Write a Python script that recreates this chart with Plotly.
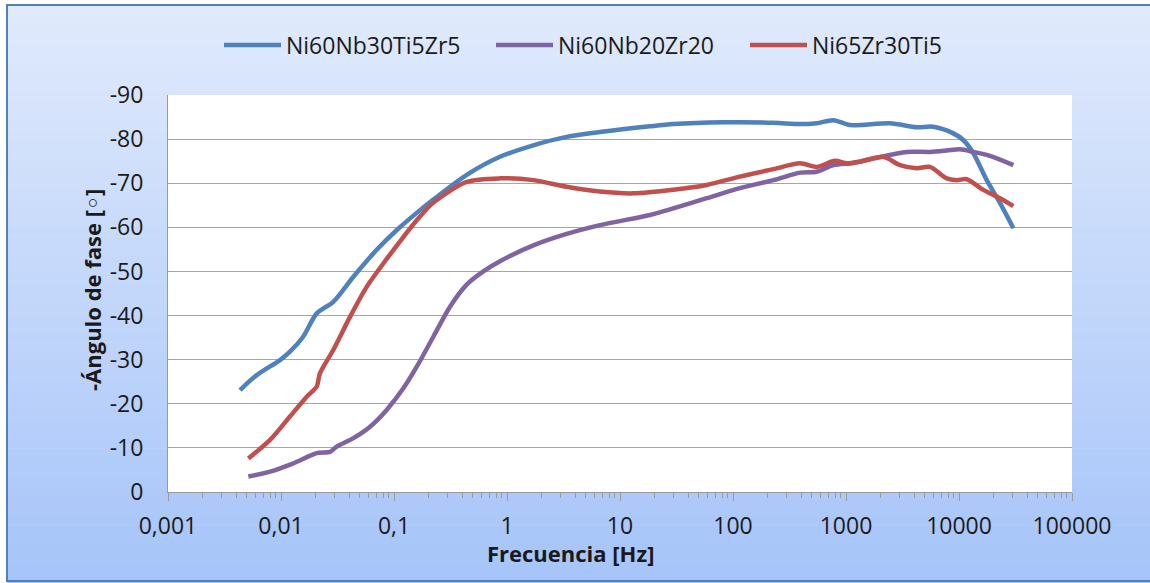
import plotly.graph_objects as go

# ---------------- data ----------------
blue_name = "Ni60Nb30Ti5Zr5"
blue_f = [0.00434, 0.0061, 0.0098, 0.012, 0.0157, 0.0207, 0.029, 0.0437, 0.0703, 0.106,
          0.17, 0.223, 0.44, 0.867, 1.71, 3.37, 6.65, 18.4, 29.6, 82, 228, 392, 550, 773,
          1084, 2450, 4220, 5930, 8910, 10900, 13400, 17600, 23100, 30300]
blue_v = [-23.1, -26.5, -29.9, -31.8, -35.2, -40.5, -43.1, -48.8, -54.9, -59.4,
          -63.9, -66.3, -71.9, -76.0, -78.6, -80.5, -81.6, -82.9, -83.4, -83.8, -83.7, -83.4, -83.6, -84.3,
          -83.2, -83.6, -82.7, -82.8, -81.3, -79.8, -76.8, -70.7, -65.5, -59.8]

purple_name = "Ni60Nb20Zr20"
purple_f = [0.00514, 0.0080, 0.01285, 0.0207, 0.0272, 0.0311, 0.0437, 0.0614, 0.0861, 0.121,
            0.159, 0.223, 0.313, 0.44, 0.617, 0.867, 1.71, 3.37, 6.65, 18.4, 29.6, 58.5, 115,
            228, 392, 550, 773, 1161, 1746, 3443, 5534, 7780, 10200, 13400, 18800, 30270]
purple_v = [-3.5, -4.6, -6.5, -8.8, -9.1, -10.3, -12.2, -14.8, -18.6, -23.5,
            -28.4, -35.2, -42.0, -47.0, -50.0, -52.3, -55.9, -58.5, -60.5, -62.8, -64.3, -66.6, -68.9,
            -70.7, -72.4, -72.6, -74.1, -74.6, -75.6, -77.1, -77.1, -77.4, -77.7, -77.1, -76.2, -74.1]

red_name = "Ni65Zr30Ti5"
red_f = [0.00514, 0.008, 0.012, 0.0169, 0.0207, 0.0221, 0.029, 0.0408, 0.0573, 0.0804,
         0.121, 0.159, 0.223, 0.44, 0.867, 1.71, 3.37, 6.65, 13.1, 29.6, 58.5, 115, 228, 392,
         550, 800, 1014, 1330, 2138, 3006, 4217, 5534, 7780, 9528, 11695, 16400, 23070, 30270]
red_v = [-7.6, -11.8, -17.1, -21.6, -23.9, -26.9, -32.2, -39.7, -46.5, -51.8,
         -57.8, -61.6, -65.6, -70.3, -71.1, -70.7, -69.2, -68.1, -67.7, -68.5, -69.6, -71.5, -73.2, -74.5,
         -73.7, -75.1, -74.5, -74.9, -76.0, -74.1, -73.4, -73.7, -71.1, -70.7, -70.9, -68.5, -66.6, -64.8]

x_tickvals = [0.001, 0.01, 0.1, 1, 10, 100, 1000, 10000, 100000]
x_ticktext = ["0,001", "0,01", "0,1", "1", "10", "100", "1000", "10000", "100000"]
y_tickvals = [0, -10, -20, -30, -40, -50, -60, -70, -80, -90]
y_ticktext = ["0", "-10", "-20", "-30", "-40", "-50", "-60", "-70", "-80", "-90"]

x_title = "<b>Frecuencia [Hz]</b>"
y_title = "<b>-Ángulo de fase [◦]</b>"

# ---------------- layout geometry (pixels) ----------------
W, H = 1150, 583
L, R, T, B = 168, 1072, 95, 492
pw, ph = R - L, B - T


def px(x):
    return (x - L) / pw


def py(y):
    return (B - y) / ph


FONT = "Open Sans, DejaVu Sans, sans-serif"

fig = go.Figure()
series = [
    (blue_name, blue_f, blue_v, "#4F81BD", "legend", 219),
    (purple_name, purple_f, purple_v, "#8064A2", "legend2", 491),
    (red_name, red_f, red_v, "#C0504D", "legend3", 745),
]
for name, f, v, col, lg, _ in series:
    fig.add_trace(go.Scatter(x=f, y=v, name=name, mode="lines", legend=lg,
                             line=dict(color=col, width=4.5, shape="spline", smoothing=0.8)))

# gradient background via bands
shapes = []
top_c = (224, 234, 252)
bot_c = (166, 196, 249)
y0p, y1p = 5, 583
n = 60
for i in range(n):
    a = y0p + (y1p - y0p) * i / n
    b = y0p + (y1p - y0p) * (i + 1) / n
    t = (i + 0.5) / n
    c = tuple(round(top_c[k] + (bot_c[k] - top_c[k]) * t) for k in range(3))
    shapes.append(dict(type="rect", xref="paper", yref="paper", layer="below",
                       x0=px(7), x1=px(1160), y0=py(a), y1=py(b + 0.6),
                       fillcolor="rgb(%d,%d,%d)" % c, line=dict(width=0)))
shapes.append(dict(type="rect", xref="paper", yref="paper", layer="below",
                   x0=0, x1=1, y0=0, y1=1, fillcolor="white", line=dict(width=0)))
shapes.append(dict(type="rect", xref="paper", yref="paper", layer="below",
                   x0=px(7), x1=px(1165), y0=py(5), y1=py(581),
                   fillcolor="rgba(0,0,0,0)", line=dict(color="#4F81BD", width=2)))

legends = {}
for name, f, v, col, lg, lx in series:
    legends[lg] = dict(orientation="h", x=px(lx), xanchor="left", y=py(45), yanchor="middle",
                       bgcolor="rgba(0,0,0,0)", font=dict(size=23), itemwidth=57)

fig.update_layout(
    width=W, height=H,
    margin=dict(l=L, r=W - R, t=T, b=H - B),
    paper_bgcolor="white", plot_bgcolor="white",
    font=dict(family=FONT, size=23, color="#1a1a1a"),
    shapes=shapes,
    showlegend=True,
    **legends,
    annotations=[
        dict(text=x_title, xref="paper", yref="paper", x=px(570), y=py(553),
             xanchor="center", yanchor="middle", showarrow=False, font=dict(size=22)),
        dict(text=y_title, xref="paper", yref="paper", x=px(92), y=py(290),
             xanchor="center", yanchor="middle", showarrow=False, textangle=-90,
             font=dict(size=22)),
    ],
    xaxis=dict(type="log", range=[-3, 5], tickvals=x_tickvals, ticktext=x_ticktext,
               showgrid=False, showline=True, linecolor="#9a9a9a", linewidth=1,
               ticks="outside", ticklen=8, tickcolor="#9a9a9a",
               minor=dict(ticks="outside", ticklen=5, tickcolor="#9a9a9a", dtick="D1", showgrid=False),
               ticklabelstandoff=5, zeroline=False),
    yaxis=dict(range=[0, -90], tickvals=y_tickvals, ticktext=y_ticktext,
               showgrid=True, gridcolor="#a6a6a6",
               gridwidth=1, showline=True, linecolor="#9a9a9a", linewidth=1,
               ticks="", ticklabelstandoff=19, zeroline=False),
)

fig.write_html("out.html")
